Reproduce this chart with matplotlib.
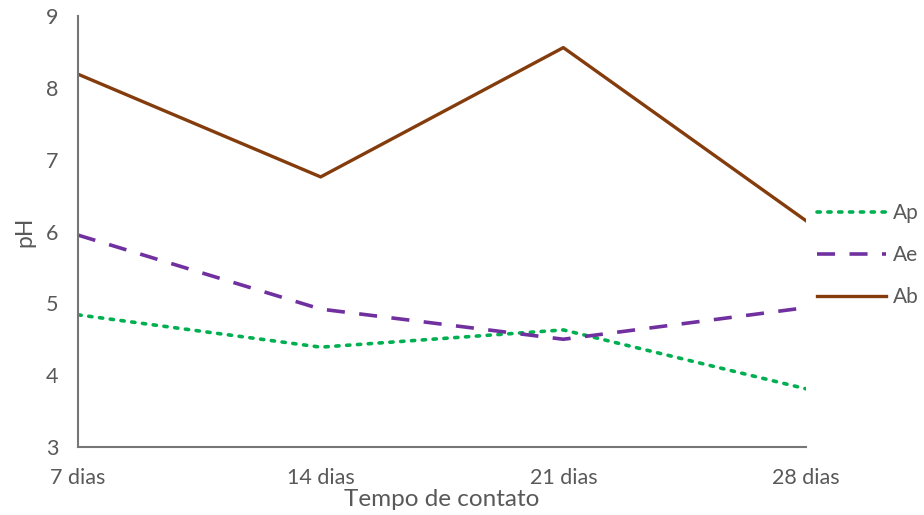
import matplotlib
matplotlib.use("Agg")
import matplotlib.pyplot as plt

categories = ["7 dias", "14 dias", "21 dias", "28 dias"]
ap = [4.84, 4.39, 4.63, 3.81]
ae = [5.95, 4.92, 4.50, 4.94]
ab = [8.19, 6.76, 8.56, 6.15]

plt.rcParams["font.family"] = ["Lato", "DejaVu Sans"]
gray = "#595959"

fig = plt.figure(figsize=(9.24, 5.15), dpi=100)
ax = fig.add_axes([78 / 924, 1 - 447 / 515, (806 - 78) / 924, (447 - 16) / 515])

x = list(range(len(categories)))
ax.plot(x, ap, color="#00B050", lw=2.6, linestyle=(0, (0.9, 2.1)),
        dash_capstyle="round", label="Ap")
ax.plot(x, ae, color="#7030A0", lw=2.6, linestyle=(0, (5, 4)), label="Ae")
ax.plot(x, ab, color="#843C0C", lw=2.4, label="Ab")

ax.set_xlim(0, 3)
ax.set_ylim(3, 9)
ax.set_yticks(range(3, 10))
ax.set_xticks(x)
ax.set_xticklabels(categories)

for side in ("top", "right"):
    ax.spines[side].set_visible(False)
for side in ("left", "bottom"):
    ax.spines[side].set_color("#767676")
    ax.spines[side].set_linewidth(1.5)
ax.tick_params(length=0, colors=gray, labelsize=15.5)
ax.tick_params(axis="y", pad=14)
ax.tick_params(axis="x", pad=15)

ax.set_xlabel("Tempo de contato", color=gray, fontsize=17.5, labelpad=1)
ax.set_ylabel("pH", color=gray, fontsize=16.5, labelpad=8)

leg = ax.legend(loc="center left", bbox_to_anchor=(0.99, 0.445), frameon=False,
                fontsize=15, handlelength=3.3, handletextpad=0.3,
                labelspacing=1.05, labelcolor=gray)

fig.savefig("out.png", dpi=100)
